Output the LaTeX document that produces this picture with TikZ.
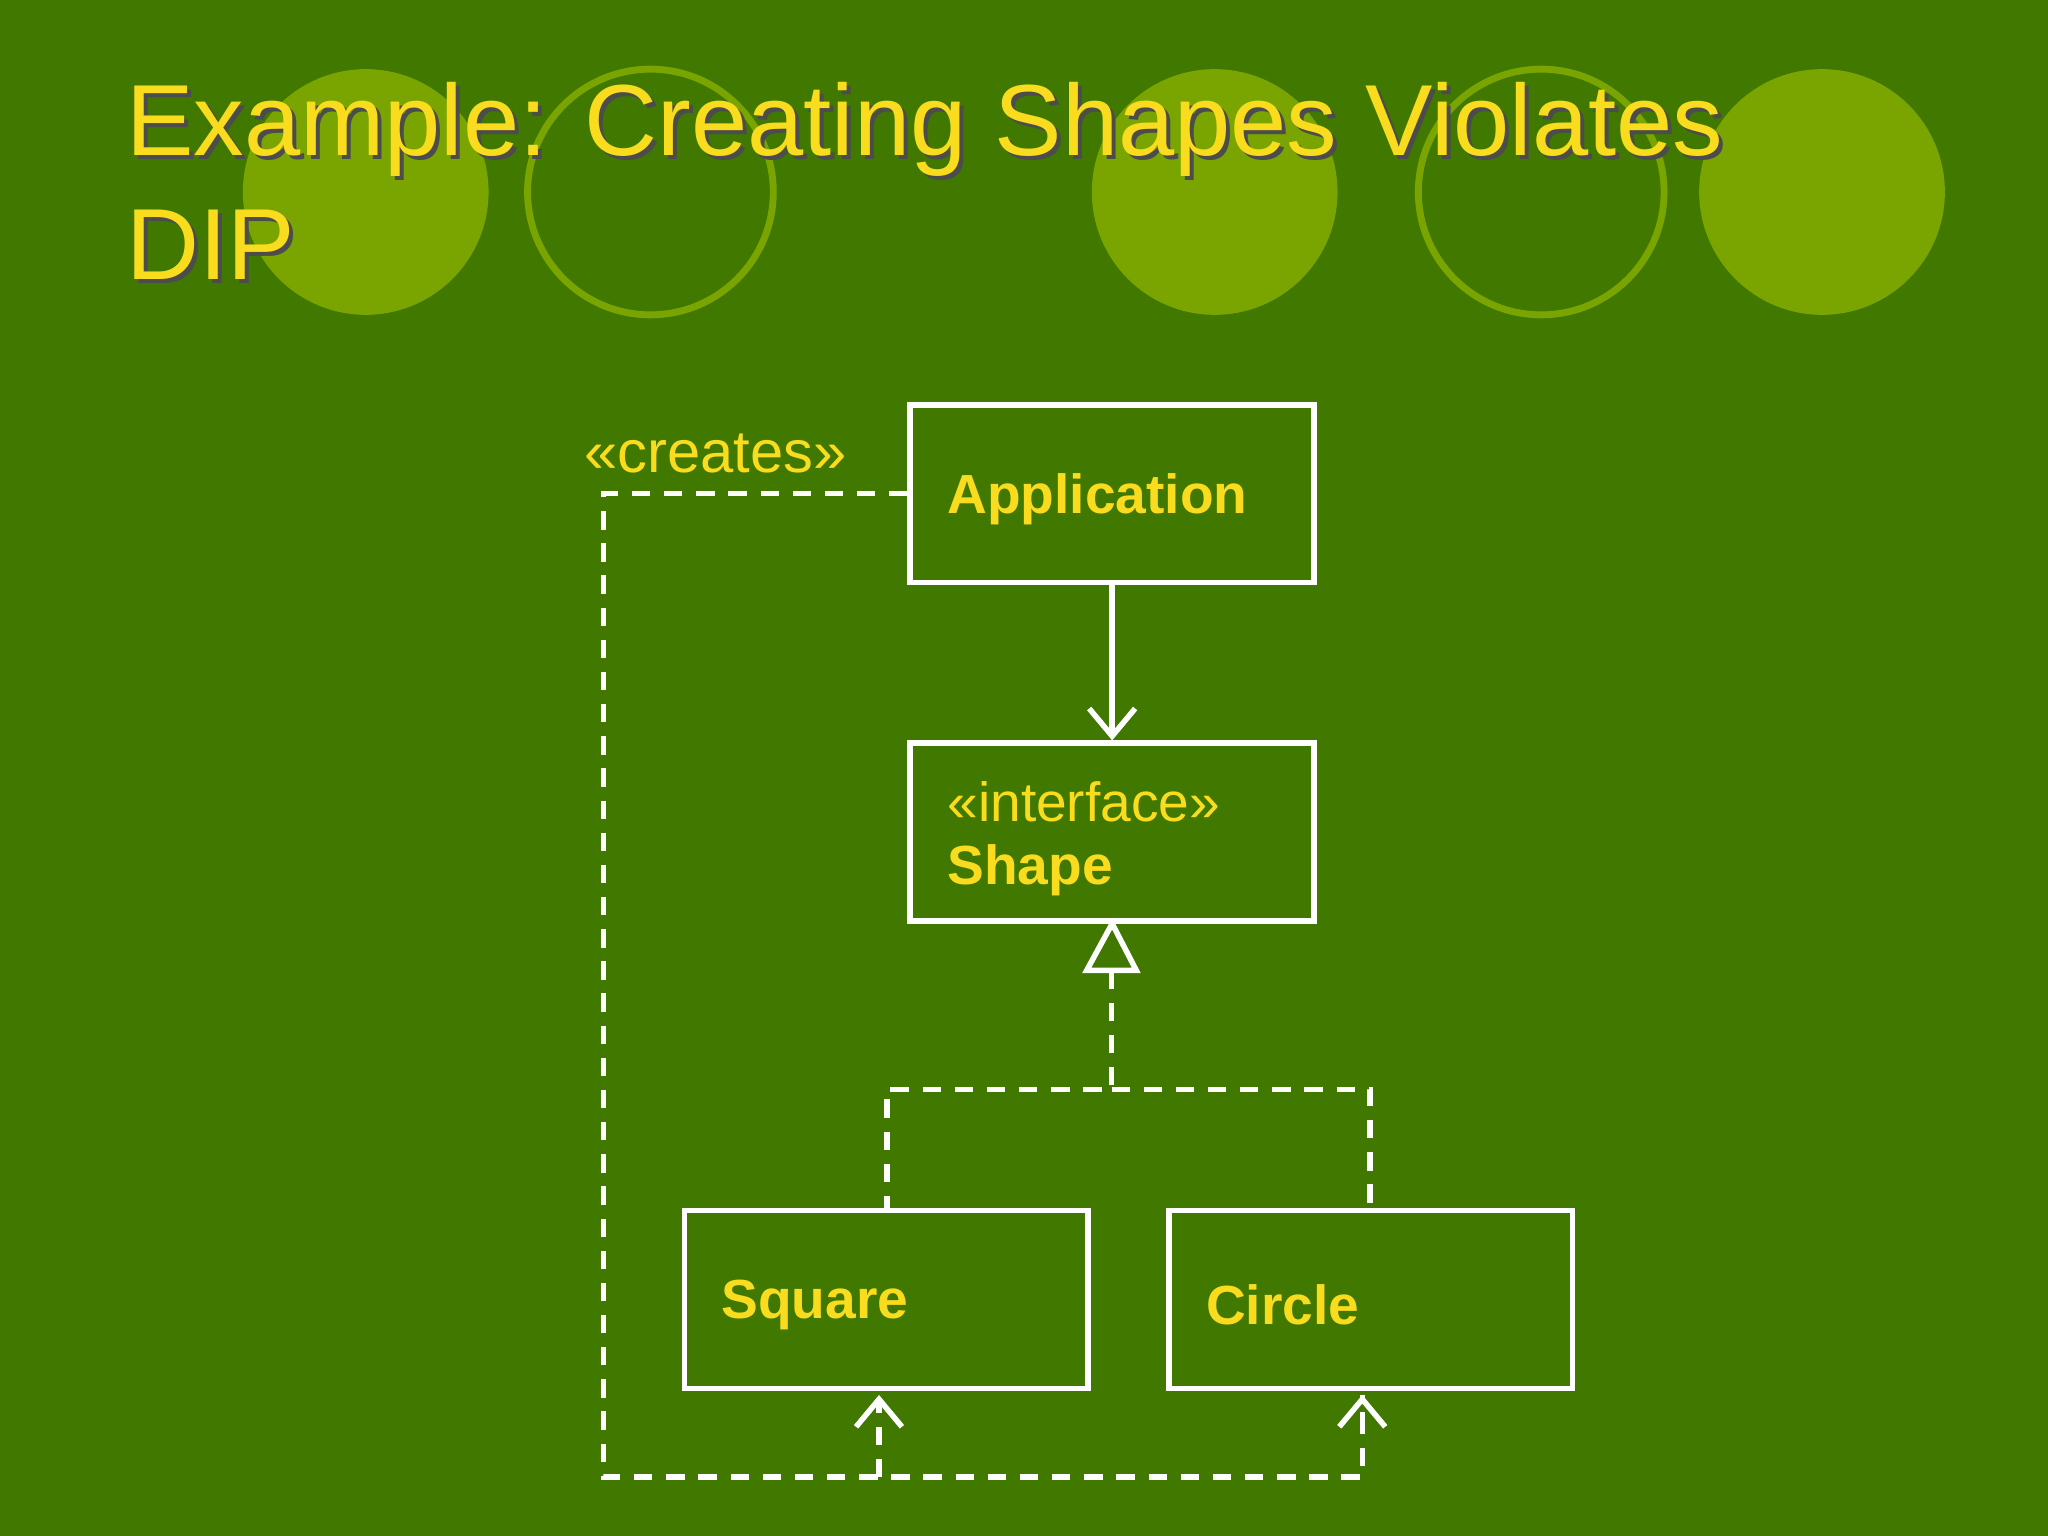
\documentclass[tikz,border=0pt]{standalone}
\usepackage{fontspec}
\setmainfont{Liberation Sans}
\usetikzlibrary{arrows.meta}
\definecolor{bggreen}{RGB}{64,120,0}
\definecolor{dotgreen}{RGB}{122,165,0}
\definecolor{titleyellow}{RGB}{250,220,30}
\tikzset{
  classbox/.style={draw=white,line width=1.2pt,minimum width=3.09cm,minimum height=1.36cm},
  classtext/.style={text=titleyellow,font=\fontsize{12}{14}\selectfont\bfseries,anchor=west},
  dep/.style={white,line width=1.2pt,dash pattern=on 4pt off 3pt},
  ring/.style={draw=dotgreen,line width=1.5pt},
  blob/.style={fill=dotgreen}
}
\begin{document}
\begin{tikzpicture}[x=0.01cm,y=-0.01cm]
\fill[bggreen] (0,0) rectangle (1568,1176);
\useasboundingbox (0,0) rectangle (1568,1176);
% circles behind the title
\fill[blob] (280,147) circle (0.94cm);
\draw[ring] (498,147) circle (0.94cm);
\fill[blob] (930,147) circle (0.94cm);
\draw[ring] (1180,147) circle (0.94cm);
\fill[blob] (1395,147) circle (0.94cm);
% title
\foreach \dx/\col in {3/black!70,0/titleyellow}
  \node[anchor=north west,text=\col,align=left,font=\fontsize{22}{27}\selectfont,
        inner sep=0pt] at (96+\dx,62+\dx) {Example: Creating Shapes Violates\\DIP};
% classes
\node[classbox] (app) at (851.5,378) {};
\node[classtext] at (713,382) {Application};
\node[classbox] (shape) at (851.5,637) {};
\node[classtext,font=\fontsize{12}{14}\selectfont] at (713,614) {«interface»};
\node[classtext] at (713,666) {Shape};
\node[classbox] (square) at (678.5,995) {};
\node[classtext] at (540,999) {Square};
\node[classbox] (circ) at (1049.5,995) {};
\node[classtext] at (911,999) {Circle};
% association
\draw[white,line width=1.2pt,-{Straight Barb[length=6pt,width=10pt]}] (app.south) -- (shape.north);
% realization
\coordinate (tri) at (851,743);
\draw[white,line width=1.2pt,fill=bggreen] (shape.south) -- (832,743) -- (870,743) -- cycle;
\draw[dep] (tri) -- (851,834) -- (679,834) -- (square.north -| 679,0);
\draw[dep] (851,834) -- (1049,834) -- (circ.north -| 1049,0);
% creates
\coordinate (sqin) at (673,1068);
\coordinate (ciin) at (1043,1068);
\draw[dep] (app.west) -- (462,378) -- (462,1131) -- (1043,1131) -- (ciin);
\draw[dep,-{Straight Barb[length=6pt,width=10pt]}] (1043,1095) -- (ciin);
\draw[dep,-{Straight Barb[length=6pt,width=10pt]}] (673,1131) -- (sqin);
\node[text=titleyellow,font=\fontsize{13}{15}\selectfont] (cr) at (548,347) {«creates»};
\end{tikzpicture}
\end{document}
